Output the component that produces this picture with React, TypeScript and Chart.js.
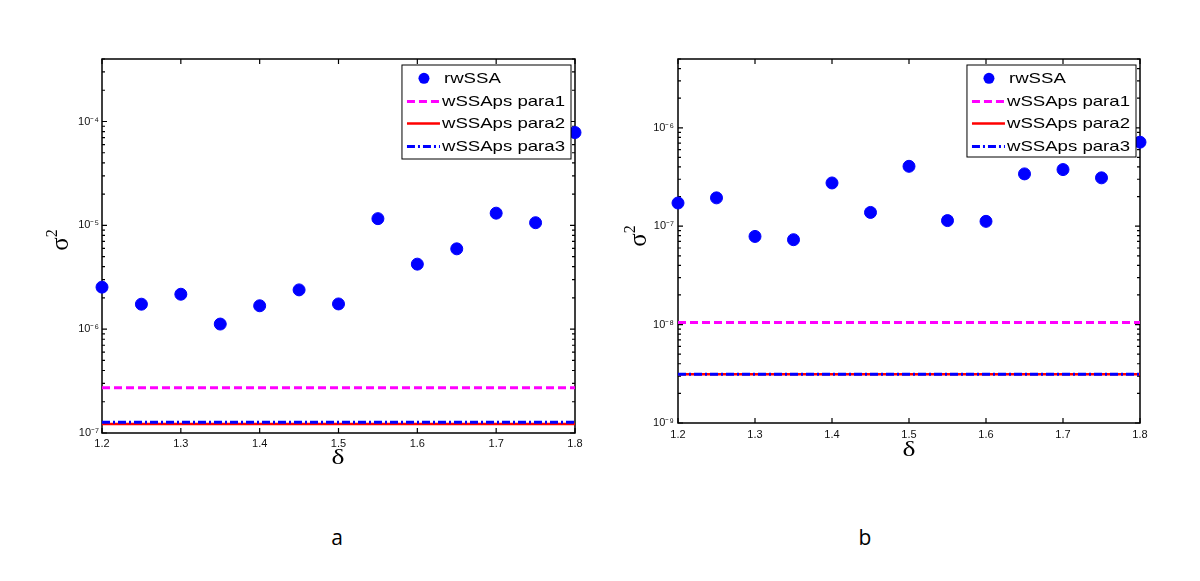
import React, { useEffect, useRef } from "react";
import { Chart, registerables } from "chart.js";
Chart.register(...registerables);

// ---------- data ----------
const deltas = [1.2, 1.25, 1.3, 1.35, 1.4, 1.45, 1.5, 1.55, 1.6, 1.65, 1.7, 1.75, 1.8];
const xTickValues = [1.2, 1.3, 1.4, 1.5, 1.6, 1.7, 1.8];
const seriesNames = ["rwSSA", "wSSAps para1", "wSSAps para2", "wSSAps para3"];
const panelLabels = ["a", "b"];

// panel a
const rwSSA_a = [2.54e-6, 1.74e-6, 2.17e-6, 1.12e-6, 1.68e-6, 2.39e-6, 1.75e-6, 1.16e-5, 4.23e-6, 5.94e-6, 1.31e-5, 1.06e-5, 7.83e-5];
const para1_a = 2.73e-7;
const para2_a = 1.22e-7;
const para3_a = 1.27e-7;
const yRange_a = [1e-7, 4e-4];

// panel b
const rwSSA_b = [1.72e-7, 1.94e-7, 7.87e-8, 7.29e-8, 2.75e-7, 1.38e-7, 4.06e-7, 1.14e-7, 1.12e-7, 3.4e-7, 3.76e-7, 3.1e-7, 7.14e-7];
const para1_b = 1.05e-8;
const para2_b = 3.13e-9;
const para3_b = 3.13e-9;
const yRange_b = [1e-9, 5e-6];

// ---------- helpers ----------
const SUP: Record<string, string> = { "-": "⁻", "0": "⁰", "1": "¹", "2": "²", "3": "³", "4": "⁴", "5": "⁵", "6": "⁶", "7": "⁷", "8": "⁸", "9": "⁹" };
const isPow10 = (v: number) => {
  const e = Math.log10(v);
  return Math.abs(e - Math.round(e)) < 1e-6;
};
const powLabel = (v: number) => {
  if (!isPow10(v)) return "";
  const e = Math.round(Math.log10(v));
  return "10" + String(e).split("").map((c) => SUP[c]).join("");
};
const logTicks = (min: number, max: number) => {
  const out: number[] = [];
  const e0 = Math.floor(Math.log10(min)) - 1;
  const e1 = Math.ceil(Math.log10(max)) + 1;
  for (let e = e0; e <= e1; e++) {
    for (let m = 1; m <= 9; m++) {
      const v = parseFloat((m * Math.pow(10, e)).toPrecision(6));
      if (v >= min * (1 - 1e-9) && v <= max * (1 + 1e-9)) out.push(v);
    }
  }
  return out;
};

const TICK_FONT = '"Liberation Sans", Arial, sans-serif';

const matlabPlugin = {
  id: "matlabFrame",
  beforeDatasetsDraw(chart: any) {
    const { ctx, chartArea, scales } = chart;
    const { left, right, top, bottom } = chartArea;
    ctx.save();
    ctx.strokeStyle = "#000";
    ctx.lineWidth = 1.5;
    ctx.strokeRect(left, top, right - left, bottom - top);
    ctx.lineWidth = 1.2;
    ctx.beginPath();
    for (const t of scales.x.ticks) {
      const px = scales.x.getPixelForValue(t.value);
      ctx.moveTo(px, bottom);
      ctx.lineTo(px, bottom - 5);
      ctx.moveTo(px, top);
      ctx.lineTo(px, top + 5);
    }
    for (const t of scales.y.ticks) {
      const py = scales.y.getPixelForValue(t.value);
      const len = isPow10(t.value) ? 5 : 3;
      ctx.moveTo(left, py);
      ctx.lineTo(left + len, py);
      ctx.moveTo(right, py);
      ctx.lineTo(right - len, py);
    }
    ctx.stroke();
    ctx.restore();
  },
  afterDatasetsDraw(chart: any, _args: any, opts: any) {
    const { ctx, chartArea } = chart;
    ctx.save();
    // ----- legend -----
    const sx = 1.24;
    ctx.font = `15px ${TICK_FONT}`;
    const ds = chart.data.datasets;
    let maxW = 0;
    for (const d of ds) maxW = Math.max(maxW, ctx.measureText(d.label).width * sx);
    const bw = 40 + maxW + 6;
    const bh = opts.legendHeight;
    const bx = chartArea.right - 4 - bw;
    const by = chartArea.top + 6;
    ctx.fillStyle = "#fff";
    ctx.fillRect(bx, by, bw, bh);
    ctx.strokeStyle = "#000";
    ctx.lineWidth = 1;
    ctx.strokeRect(bx, by, bw, bh);
    const rows = [13.3, 36.5, 58.5, 81.5];
    ds.forEach((d: any, i: number) => {
      const ry = by + rows[i];
      if (!d.showLine) {
        ctx.fillStyle = d.backgroundColor;
        ctx.beginPath();
        ctx.arc(bx + 22, ry, 5.5, 0, Math.PI * 2);
        ctx.fill();
      } else {
        ctx.strokeStyle = d.borderColor;
        ctx.lineWidth = d.borderWidth;
        ctx.setLineDash(d.borderDash || []);
        ctx.beginPath();
        ctx.moveTo(bx + 5, ry);
        ctx.lineTo(bx + 38, ry);
        ctx.stroke();
        ctx.setLineDash([]);
      }
      ctx.save();
      ctx.translate(bx + (d.showLine ? 40 : 42), ry);
      ctx.scale(sx, 1);
      ctx.fillStyle = "#000";
      ctx.font = `15px ${TICK_FONT}`;
      ctx.textBaseline = "middle";
      ctx.textAlign = "left";
      ctx.fillText(d.label, 0, 0.5);
      ctx.restore();
    });
    // ----- axis titles -----
    ctx.fillStyle = "#000";
    ctx.textAlign = "center";
    ctx.textBaseline = "middle";
    ctx.save();
    ctx.translate(opts.deltaPos[0], opts.deltaPos[1]);
    ctx.scale(1.25, 1);
    ctx.font = '22px "Liberation Serif", "DejaVu Serif", serif';
    ctx.fillText("δ", 0, 0);
    ctx.restore();
    ctx.save();
    ctx.translate(opts.sigmaPos[0], opts.sigmaPos[1]);
    ctx.rotate(-Math.PI / 2);
    ctx.textAlign = "left";
    ctx.textBaseline = "alphabetic";
    ctx.font = '25px "Liberation Serif", "DejaVu Serif", serif';
    const w1 = ctx.measureText("σ").width;
    ctx.font = '16px "Liberation Serif", "DejaVu Serif", serif';
    const w2 = ctx.measureText("2").width;
    const start = -(w1 + w2) / 2;
    ctx.font = '25px "Liberation Serif", "DejaVu Serif", serif';
    ctx.fillText("σ", start, 6);
    ctx.font = '16px "Liberation Serif", "DejaVu Serif", serif';
    ctx.fillText("2", start + w1, -5);
    ctx.restore();
    ctx.restore();
  },
};

type Panel = {
  rw: number[];
  p1: number;
  p2: number;
  p3: number;
  yRange: number[];
  yAxisWidth: number;
  padRight: number;
  padBottom: number;
  xTickPad: number;
  yTickPad: number;
  deltaPos: number[];
  sigmaPos: number[];
  legendHeight: number;
};

function ChartPanel({ panel, left }: { panel: Panel; left: number }) {
  const ref = useRef<HTMLCanvasElement | null>(null);
  useEffect(() => {
    if (!ref.current) return;
    const x0 = deltas[0];
    const x1 = deltas[deltas.length - 1];
    const flat = (v: number) => [{ x: x0, y: v }, { x: x1, y: v }];
    const chart = new Chart(ref.current, {
      type: "scatter",
      data: {
        datasets: [
          {
            label: seriesNames[0],
            data: deltas.map((d, i) => ({ x: d, y: panel.rw[i] })),
            showLine: false,
            pointRadius: 6,
            pointStyle: "circle",
            backgroundColor: "#0000ff",
            borderColor: "#0000ff",
            borderWidth: 1,
            clip: false,
            order: 0,
          },
          {
            label: seriesNames[1],
            data: flat(panel.p1),
            showLine: true,
            pointRadius: 0,
            borderColor: "#ff00ff",
            backgroundColor: "#ff00ff",
            borderWidth: 3,
            borderDash: [8, 4],
            order: 3,
          },
          {
            label: seriesNames[2],
            data: flat(panel.p2),
            showLine: true,
            pointRadius: 0,
            borderColor: "#ff0000",
            backgroundColor: "#ff0000",
            borderWidth: 2.5,
            order: 2,
          },
          {
            label: seriesNames[3],
            data: flat(panel.p3),
            showLine: true,
            pointRadius: 0,
            borderColor: "#0000ff",
            backgroundColor: "#0000ff",
            borderWidth: 3,
            borderDash: [8, 3, 2, 3],
            order: 1,
          },
        ],
      } as any,
      options: {
        animation: false,
        responsive: false,
        events: [],
        layout: { padding: { left: 0, top: 59, right: panel.padRight, bottom: panel.padBottom } },
        plugins: {
          legend: { display: false },
          tooltip: { enabled: false },
          matlabFrame: {
            deltaPos: panel.deltaPos,
            sigmaPos: panel.sigmaPos,
            legendHeight: panel.legendHeight,
          },
        } as any,
        scales: {
          x: {
            type: "linear",
            min: x0,
            max: x1,
            grid: { display: false, drawTicks: false, tickLength: 0 },
            border: { display: false },
            afterFit: (s: any) => {
              s.height = 40;
            },
            afterBuildTicks: (s: any) => {
              s.ticks = xTickValues.map((v) => ({ value: v }));
            },
            ticks: {
              autoSkip: false,
              maxRotation: 0,
              padding: panel.xTickPad,
              color: "#111",
              font: { family: TICK_FONT, size: 11 },
              callback: (v: any) => Number(v).toFixed(1),
            },
          },
          y: {
            type: "logarithmic",
            min: panel.yRange[0],
            max: panel.yRange[1],
            bounds: "data",
            grid: { display: false, drawTicks: false, tickLength: 0 },
            border: { display: false },
            afterFit: (s: any) => {
              s.width = panel.yAxisWidth;
            },
            afterBuildTicks: (s: any) => {
              s.ticks = logTicks(panel.yRange[0], panel.yRange[1]).map((v) => ({ value: v, major: isPow10(v) }));
            },
            ticks: {
              autoSkip: false,
              padding: panel.yTickPad,
              color: "#111",
              font: { family: TICK_FONT, size: 11 },
              callback: (v: any) => powLabel(Number(v)),
            },
          },
        } as any,
      },
      plugins: [matlabPlugin as any],
    });
    return () => chart.destroy();
  }, [panel]);
  return (
    <canvas
      ref={ref}
      width={600}
      height={500}
      style={{ position: "absolute", left, top: 0, width: 600, height: 500 }}
    />
  );
}

const panelA: Panel = {
  rw: rwSSA_a,
  p1: para1_a,
  p2: para2_a,
  p3: para3_a,
  yRange: yRange_a,
  yAxisWidth: 102,
  padRight: 25,
  padBottom: 27,
  xTickPad: 4,
  yTickPad: 3,
  deltaPos: [338, 458],
  sigmaPos: [62, 240],
  legendHeight: 94,
};

const panelB: Panel = {
  rw: rwSSA_b,
  p1: para1_b,
  p2: para2_b,
  p3: para3_b,
  yRange: yRange_b,
  yAxisWidth: 78,
  padRight: 60,
  padBottom: 37,
  xTickPad: 5,
  yTickPad: 4,
  deltaPos: [309, 450],
  sigmaPos: [40, 236],
  legendHeight: 92,
};

export default function App() {
  const labelStyle = (x: number): React.CSSProperties => ({
    position: "absolute",
    left: x - 20,
    top: 522,
    width: 40,
    height: 30,
    lineHeight: "30px",
    textAlign: "center",
    fontFamily: '"Open Sans", "Liberation Sans", sans-serif',
    fontSize: 21,
    color: "#000",
  });
  return (
    <div style={{ position: "absolute", left: 0, top: 0, width: 1200, height: 581, background: "#fff", overflow: "hidden" }}>
      <ChartPanel panel={panelA} left={0} />
      <ChartPanel panel={panelB} left={600} />
      <div style={labelStyle(337)}>{panelLabels[0]}</div>
      <div style={labelStyle(865)}>{panelLabels[1]}</div>
    </div>
  );
}
